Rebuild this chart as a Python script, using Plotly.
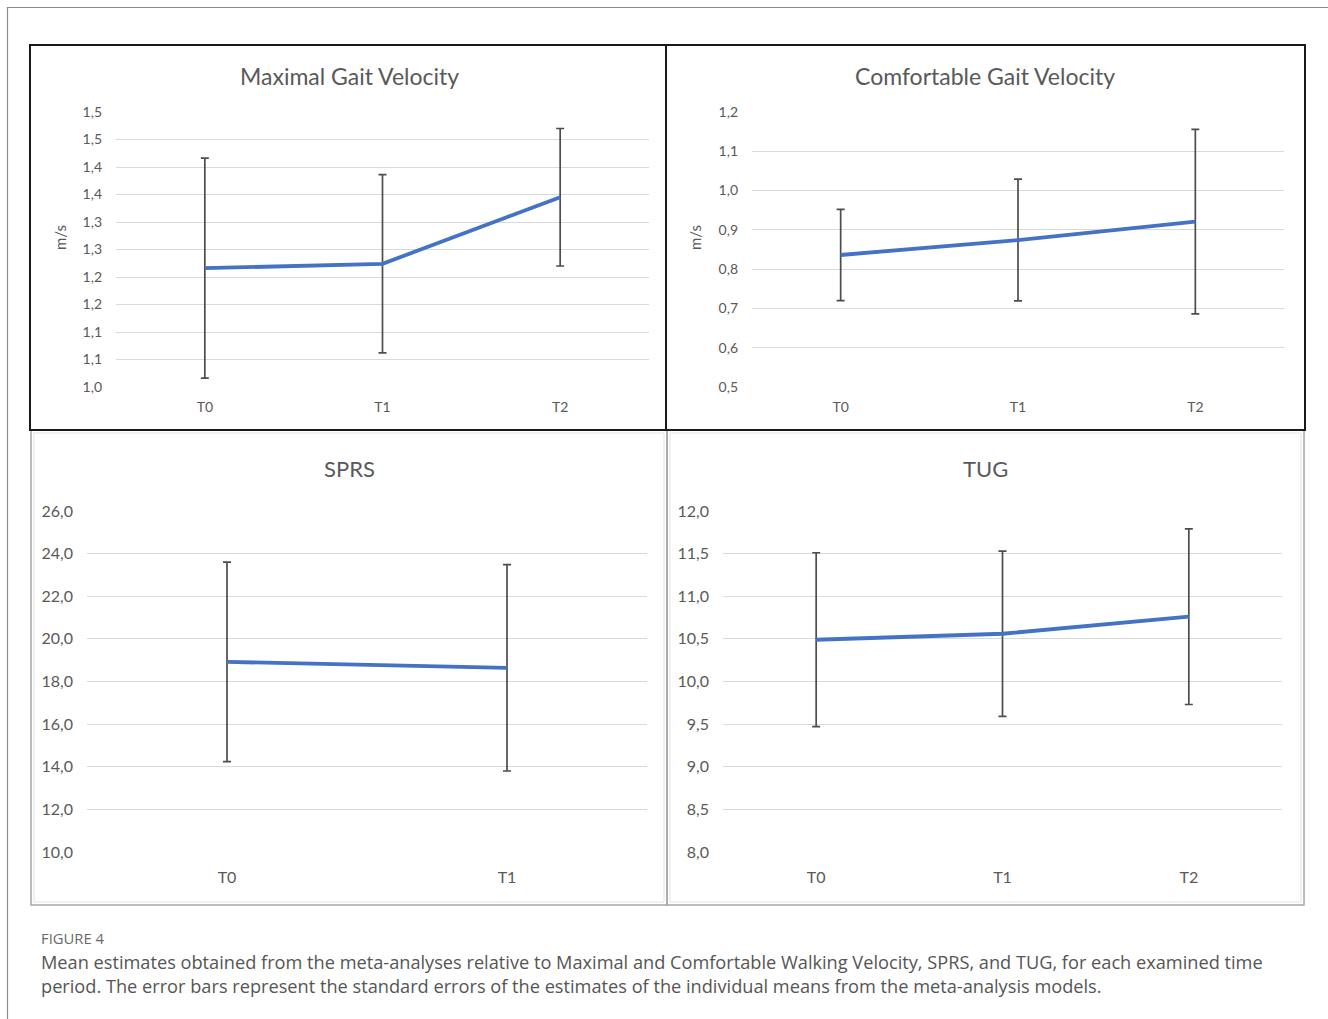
import plotly.graph_objects as go

W, H = 1328, 1019

# ---- data -------------------------------------------------------------
times3 = ["T0", "T1", "T2"]
times2 = ["T0", "T1"]

max_gait_mean = [1.216, 1.224, 1.345]
max_gait_se = [0.200, 0.162, 0.125]

comf_gait_mean = [0.836, 0.874, 0.921]
comf_gait_se = [0.116, 0.155, 0.235]

sprs_mean = [18.92, 18.64]
sprs_se = [4.68, 4.84]

tug_mean = [10.49, 10.56, 10.76]
tug_se = [1.02, 0.97, 1.03]

max_ticks = [1.00, 1.05, 1.10, 1.15, 1.20, 1.25, 1.30, 1.35, 1.40, 1.45, 1.50]
max_ticktext = ["1,0", "1,1", "1,1", "1,2", "1,2", "1,3", "1,3", "1,4", "1,4", "1,5", "1,5"]
comf_ticks = [0.5, 0.6, 0.7, 0.8, 0.9, 1.0, 1.1, 1.2]
comf_ticktext = ["0,5", "0,6", "0,7", "0,8", "0,9", "1,0", "1,1", "1,2"]
sprs_ticks = [10, 12, 14, 16, 18, 20, 22, 24, 26]
sprs_ticktext = ["10,0", "12,0", "14,0", "16,0", "18,0", "20,0", "22,0", "24,0", "26,0"]
tug_ticks = [8.0, 8.5, 9.0, 9.5, 10.0, 10.5, 11.0, 11.5, 12.0]
tug_ticktext = ["8,0", "8,5", "9,0", "9,5", "10,0", "10,5", "11,0", "11,5", "12,0"]

titles = ["Maximal Gait Velocity", "Comfortable Gait Velocity", "SPRS", "TUG"]
caption_label = "FIGURE 4"
caption_text = ("Mean estimates obtained from the meta-analyses relative to Maximal and Comfortable Walking Velocity, SPRS, and TUG, for each examined time<br>"
                "period. The error bars represent the standard errors of the estimates of the individual means from the meta-analysis models.")

# ---- helpers ----------------------------------------------------------
def px(x):
    return x / W


def py(y):
    return 1 - y / H


LINE = "#4472C4"
ERR = "#4d4d4d"
GRID = "#d9d9d9"
TXT = "#595959"
FONT = "Lato, 'Open Sans', sans-serif"
CAP_FONT = "'Open Sans', Lato, sans-serif"

panels = [
    # x, means, se, (plot px left, right, top, bottom), ticks, ticktext, y-range
    (times3, max_gait_mean, max_gait_se, (116, 649, 112, 387), max_ticks, max_ticktext, [1.0, 1.5]),
    (times3, comf_gait_mean, comf_gait_se, (752, 1284, 112, 387), comf_ticks, comf_ticktext, [0.5, 1.2]),
    (times2, sprs_mean, sprs_se, (87, 647, 511, 852), sprs_ticks, sprs_ticktext, [10, 26]),
    (times3, tug_mean, tug_se, (723, 1282, 511, 852), tug_ticks, tug_ticktext, [8, 12]),
]

fig = go.Figure()
layout = {}

for i, (cats, mean, se, box, tv, tt, yr) in enumerate(panels, start=1):
    xa = "x" if i == 1 else f"x{i}"
    ya = "y" if i == 1 else f"y{i}"
    fig.add_trace(go.Scatter(
        x=cats, y=mean, xaxis=xa, yaxis=ya, mode="lines",
        line=dict(color=LINE, width=3.8),
        error_y=dict(type="data", array=se, visible=True, color=ERR,
                     thickness=1.7, width=4),
        showlegend=False, hoverinfo="skip",
    ))
    l, r, t, b = box
    xkey = "xaxis" if i == 1 else f"xaxis{i}"
    ykey = "yaxis" if i == 1 else f"yaxis{i}"
    layout[xkey] = dict(
        domain=[px(l), px(r)], anchor=ya, type="category", automargin=False,
        range=[-0.5, len(cats) - 0.5], showgrid=False, zeroline=False,
        showline=False, ticks="", tickfont=dict(family=FONT, size=14 if i <= 2 else 16, color=TXT),
        ticklabelstandoff=10 if i <= 2 else 14, fixedrange=True,
    )
    layout[ykey] = dict(
        domain=[py(b), py(t)], anchor=xa, range=yr, tickvals=tv, ticktext=tt,
        automargin=False,
        showgrid=True, gridcolor=GRID, gridwidth=1.2, zeroline=False,
        showline=False, ticks="", tickfont=dict(family=FONT, size=14 if i <= 2 else 16, color=TXT),
        ticklabelstandoff=13, fixedrange=True,
    )

annotations = []
# panel titles
for txt, (cx, cy, sz) in zip(titles, [(349, 76, 23), (985, 76, 23), (349, 468, 22), (985, 468, 22)]):
    annotations.append(dict(text=txt, x=px(cx), y=py(cy), xref="paper", yref="paper",
                            showarrow=False, xanchor="center", yanchor="middle",
                            font=dict(family=FONT, size=sz, color=TXT)))
# unit labels
for cx in (60, 695):
    annotations.append(dict(text="m/s", x=px(cx), y=py(238), xref="paper", yref="paper",
                            showarrow=False, textangle=-90, xanchor="center", yanchor="middle",
                            font=dict(family=FONT, size=15, color=TXT)))
# caption
annotations.append(dict(text=caption_label, x=px(39), y=py(938), xref="paper", yref="paper",
                        showarrow=False, xanchor="left", yanchor="middle",
                        font=dict(family=CAP_FONT, size=14.8, color="#6a6a6a")))
annotations.append(dict(text=caption_text, x=px(39), y=py(974), xref="paper", yref="paper",
                        showarrow=False, xanchor="left", yanchor="middle", align="left",
                        font=dict(family=CAP_FONT, size=18.2, color="#555555")))

shapes = [
    # outer page frame
    dict(type="rect", xref="paper", yref="paper", x0=px(7.5), x1=px(1340), y0=py(1030), y1=py(7.5),
         line=dict(color="#8c8c8c", width=1.2)),
    # bottom panels (grey frames)
    dict(type="rect", xref="paper", yref="paper", x0=px(31), x1=px(667), y0=py(905), y1=py(430),
         line=dict(color="#a6a6a6", width=1.5)),
    dict(type="rect", xref="paper", yref="paper", x0=px(667), x1=px(1304), y0=py(905), y1=py(430),
         line=dict(color="#a6a6a6", width=1.5)),
    dict(type="rect", xref="paper", yref="paper", x0=px(34), x1=px(664), y0=py(902), y1=py(433),
         line=dict(color="#e3e3e3", width=1)),
    dict(type="rect", xref="paper", yref="paper", x0=px(670), x1=px(1301), y0=py(902), y1=py(433),
         line=dict(color="#e3e3e3", width=1)),
    # top panels (black frames)
    dict(type="rect", xref="paper", yref="paper", x0=px(30), x1=px(666), y0=py(430), y1=py(45),
         line=dict(color="#1a1a1a", width=2)),
    dict(type="rect", xref="paper", yref="paper", x0=px(666), x1=px(1305), y0=py(430), y1=py(45),
         line=dict(color="#1a1a1a", width=2)),
]

fig.update_layout(
    width=W, height=H, margin=dict(l=0, r=0, t=0, b=0, pad=0, autoexpand=False),
    paper_bgcolor="white", plot_bgcolor="white",
    annotations=annotations, shapes=shapes, **layout,
)

fig.write_html("out.html", config={"displayModeBar": False})
